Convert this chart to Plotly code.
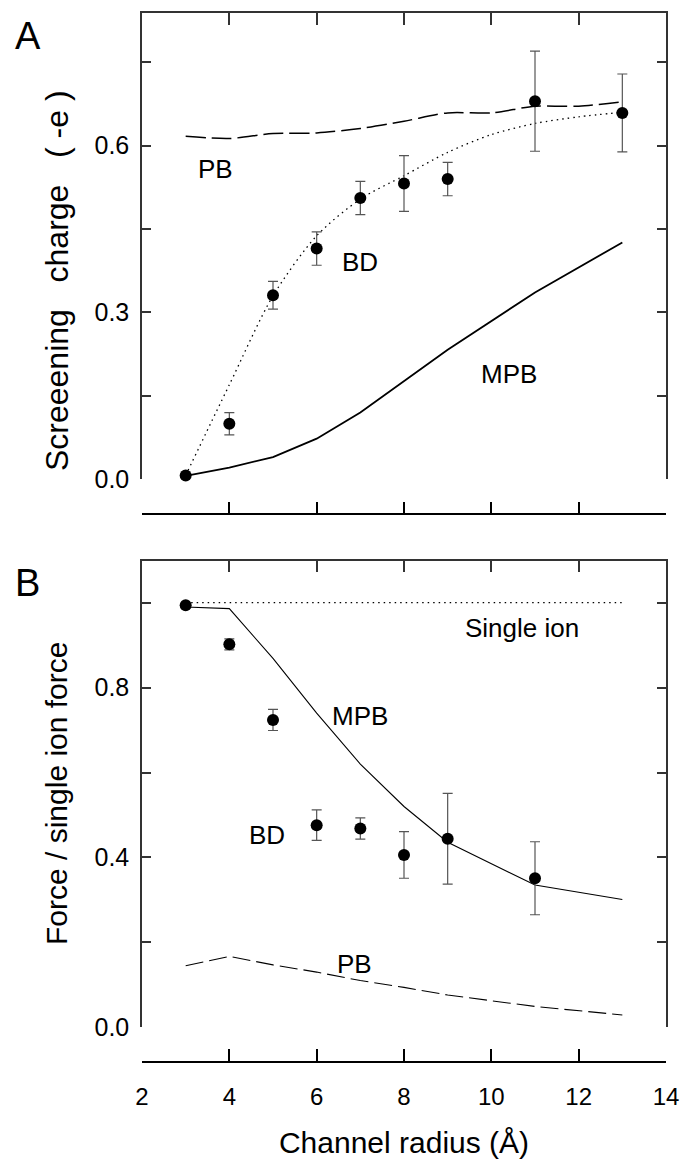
import plotly.graph_objects as go

# ---------------- data ----------------
radius_pts = [3, 4, 5, 6, 7, 8, 9, 11, 13]          # radii of BD / MPB / PB samples
radius_fine = [3, 4, 5, 6, 7, 8, 9, 10, 11, 12, 13]  # radii of smooth curves

# Panel A : screening charge (-e)
bd_a = [0.007, 0.100, 0.331, 0.415, 0.506, 0.532, 0.540, 0.680, 0.659]
bd_a_err = [0.0, 0.020, 0.025, 0.030, 0.030, 0.050, 0.030, 0.090, 0.070]
bd_a_fit = [0.007, 0.170, 0.330, 0.438, 0.504, 0.546, 0.588, 0.620, 0.640, 0.652, 0.660]
pb_a = [0.617, 0.613, 0.622, 0.623, 0.631, 0.644, 0.659, 0.659, 0.671, 0.671, 0.679]
mpb_a = [0.006, 0.021, 0.040, 0.073, 0.120, 0.176, 0.233, 0.336, 0.426]

# Panel B : force / single ion force
radius_b = [3, 4, 5, 6, 7, 8, 9, 11]
bd_b = [0.994, 0.902, 0.724, 0.476, 0.468, 0.406, 0.444, 0.351]
bd_b_err = [0.0, 0.013, 0.025, 0.036, 0.025, 0.055, 0.107, 0.086]
mpb_b = [0.990, 0.986, 0.869, 0.740, 0.620, 0.520, 0.436, 0.335, 0.301]
pb_b = [0.145, 0.167, 0.147, 0.130, 0.110, 0.094, 0.076, 0.049, 0.029]
single_r = [3, 13]
single_ion = [1.0, 1.0]

# ticks
x_ticks = [2, 4, 6, 8, 10, 12, 14]
x_ticktext = ["2", "4", "6", "8", "10", "12", "14"]
ya_ticks = [0.0, 0.15, 0.3, 0.45, 0.6, 0.75]
ya_ticktext = ["0.0", "", "0.3", "", "0.6", ""]
yb_ticks = [0.0, 0.2, 0.4, 0.6, 0.8, 1.0]
yb_ticktext = ["0.0", "", "0.4", "", "0.8", ""]

FONT = "Liberation Sans, Arial, Helvetica, sans-serif"
AX = "#333333"
ERR = "#555555"

fig = go.Figure()

def err(vals):
    return dict(type="data", array=vals, visible=True, color=ERR, thickness=1.2, width=5)

# ---- Panel A ----
fig.add_trace(go.Scatter(x=radius_fine, y=pb_a, mode="lines", xaxis="x", yaxis="y",
                         line=dict(color="black", width=1.5, dash="20px,6px", shape="spline", smoothing=0.8),
                         showlegend=False, hoverinfo="skip"))
fig.add_trace(go.Scatter(x=radius_fine, y=bd_a_fit, mode="lines", xaxis="x", yaxis="y",
                         line=dict(color="black", width=1.3, dash="1.5px,4px", shape="spline", smoothing=0.8),
                         showlegend=False, hoverinfo="skip"))
fig.add_trace(go.Scatter(x=radius_pts, y=mpb_a, mode="lines", xaxis="x", yaxis="y",
                         line=dict(color="black", width=1.8), showlegend=False, hoverinfo="skip"))
fig.add_trace(go.Scatter(x=radius_pts, y=bd_a, mode="markers", xaxis="x", yaxis="y",
                         marker=dict(color="black", size=12), error_y=err(bd_a_err),
                         cliponaxis=False, showlegend=False))
# carrier trace for the detached bottom axis of panel A
fig.add_trace(go.Scatter(x=radius_pts, y=mpb_a, mode="lines", xaxis="x2", yaxis="y",
                         line=dict(width=0, color="rgba(0,0,0,0)"), showlegend=False, hoverinfo="skip"))

# ---- Panel B ----
fig.add_trace(go.Scatter(x=single_r, y=single_ion, mode="lines", xaxis="x3", yaxis="y2",
                         line=dict(color="black", width=1.2, dash="1.5px,4px"), showlegend=False, hoverinfo="skip"))
fig.add_trace(go.Scatter(x=radius_pts, y=mpb_b, mode="lines", xaxis="x3", yaxis="y2",
                         line=dict(color="black", width=1.1), showlegend=False, hoverinfo="skip"))
fig.add_trace(go.Scatter(x=radius_pts, y=pb_b, mode="lines", xaxis="x3", yaxis="y2",
                         line=dict(color="black", width=1.1, dash="18px,6px"), showlegend=False, hoverinfo="skip"))
fig.add_trace(go.Scatter(x=radius_b, y=bd_b, mode="markers", xaxis="x3", yaxis="y2",
                         marker=dict(color="black", size=12), error_y=err(bd_b_err),
                         cliponaxis=False, showlegend=False))
fig.add_trace(go.Scatter(x=radius_pts, y=pb_b, mode="lines", xaxis="x4", yaxis="y2",
                         line=dict(width=0, color="rgba(0,0,0,0)"), showlegend=False, hoverinfo="skip"))

tickfont = dict(family=FONT, size=25, color="black")
xtickfont = dict(family=FONT, size=24, color="black")

top_x = dict(range=[2, 14], side="top", showline=True, linecolor=AX, linewidth=1.5,
             ticks="inside", ticklen=12, tickcolor=AX, tickwidth=1.5, automargin=False,
             tickvals=x_ticks, showticklabels=False, showgrid=False, zeroline=False, mirror=False)
free_x = dict(range=[2, 14], side="bottom", anchor="free", showline=True, linecolor="black", linewidth=1.5,
              ticks="inside", ticklen=12, tickcolor="black", tickwidth=1.5, automargin=False,
              tickvals=x_ticks, ticktext=x_ticktext, showgrid=False, zeroline=False)

fig.update_layout(
    width=681, height=1159,
    margin=dict(l=142, r=15, t=13, b=97, autoexpand=False),
    paper_bgcolor="white", plot_bgcolor="white",
    font=dict(family=FONT, color="black"),
    xaxis=dict(**top_x, anchor="y"),
    xaxis2=dict(**free_x, overlaying="x", position=0.5221, showticklabels=False),
    xaxis3=dict(**top_x, anchor="y2"),
    xaxis4=dict(**free_x, overlaying="x3", position=0.0, showticklabels=True, tickfont=xtickfont,
                ticklabelstandoff=13, ticklabeloverflow="allow",
                title=dict(text="Channel radius (Å)", font=dict(family=FONT, size=30), standoff=27)),
    yaxis=dict(domain=[0.5555, 1.0], range=[0, 0.8387], anchor="x", automargin=False,
               showline=True, linecolor=AX, linewidth=1.5, mirror="ticks",
               ticks="inside", ticklen=9, tickcolor=AX, tickwidth=1.5,
               tickvals=ya_ticks, ticktext=ya_ticktext, tickfont=tickfont, ticklabelstandoff=6,
               showgrid=False, zeroline=False),
    yaxis2=dict(domain=[0.0331, 0.4779], range=[0, 1.099], anchor="x3", automargin=False,
                showline=True, linecolor=AX, linewidth=1.5, mirror="ticks",
                ticks="inside", ticklen=9, tickcolor=AX, tickwidth=1.5,
                tickvals=yb_ticks, ticktext=yb_ticktext, tickfont=tickfont, ticklabelstandoff=6,
                showgrid=False, zeroline=False),
)

lab = dict(family=FONT, size=26, color="black")
annots = [
    dict(text="PB", x=3.69, y=0.559, xref="x", yref="y"),
    dict(text="BD", x=7.0, y=0.391, xref="x", yref="y"),
    dict(text="MPB", x=10.4, y=0.19, xref="x", yref="y"),
    dict(text="Single ion", x=10.7, y=0.94, xref="x3", yref="y2"),
    dict(text="MPB", x=7.0, y=0.734, xref="x3", yref="y2"),
    dict(text="BD", x=4.86, y=0.453, xref="x3", yref="y2"),
    dict(text="PB", x=6.87, y=0.148, xref="x3", yref="y2"),
]
for a in annots:
    fig.add_annotation(**a, showarrow=False, font=lab, xanchor="center", yanchor="middle")

big = dict(family=FONT, size=38, color="black")
fig.add_annotation(text="A", x=-0.218, y=0.978, xref="paper", yref="paper", showarrow=False,
                   font=big, xanchor="center", yanchor="middle")
fig.add_annotation(text="B", x=-0.218, y=0.4566, xref="paper", yref="paper", showarrow=False,
                   font=big, xanchor="center", yanchor="middle")

NB = "\u00a0"
ttl = dict(family=FONT, size=32, color="black")
fig.add_annotation(text="Screeening" + NB * 3 + "charge" + NB * 3 + "(" + NB + "-e" + NB + ")",
                   x=-0.1622, y=0.7445, xref="paper", yref="paper",
                   showarrow=False, textangle=-90, font=ttl, xanchor="center", yanchor="middle")
fig.add_annotation(text="Force / single ion force", x=-0.1622, y=0.2555, xref="paper", yref="paper",
                   showarrow=False, textangle=-90, font=dict(family=FONT, size=30, color="black"),
                   xanchor="center", yanchor="middle")

fig.write_html("out.html")
